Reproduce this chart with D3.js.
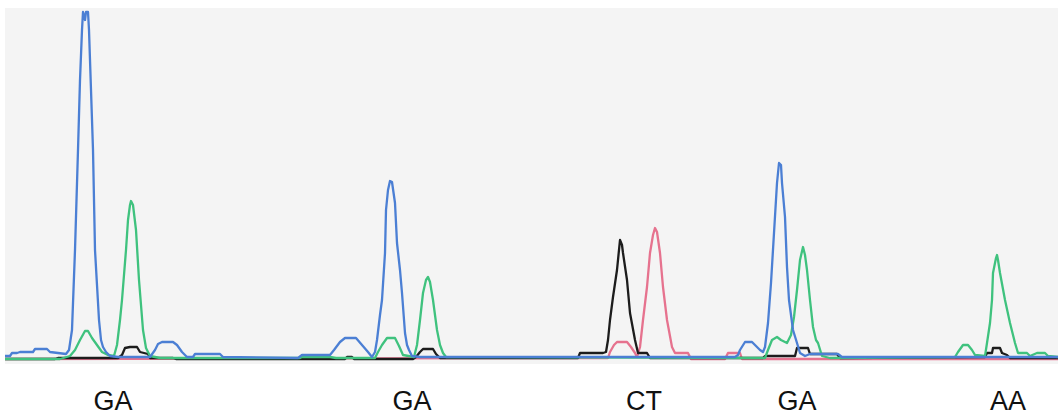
<!DOCTYPE html>
<html>
<head>
<meta charset="utf-8">
<style>
  body { margin: 0; background: #ffffff; }
  .trace { fill: none; stroke-width: 2.3; stroke-linejoin: round; }
  .call { font-family: "Liberation Sans", Arial, sans-serif; font-size: 27px; fill: #111; }
</style>
</head>
<body>
<script src="https://cdn.jsdelivr.net/npm/d3@7"></script>
<script>
// trace data: [scan position, signal]
const blueTrace = [[5,3],[10,3],[12,6],[17,6],[20,7],[33,7],[35,10],[47,10],[50,7],[58,6],[66,5],
  [69,9],[72,29],[75,109],[78,209],[80,279],[82,329],[83,347],[85,339],[86,347],[88,347],[89,329],[90,299],[93,209],[95,109],[97,74],[99,39],[101,19],[103,12],[106,7],[110,3],
  [118,2],[150,2],[155,9],[158,15],[162,17],[173,17],[177,14],[182,7],[187,2],[193,2],[195,5],[220,5],[223,2],
  [298,1],[302,4],[330,4],[334,9],[340,17],[345,21],[356,21],[362,14],[368,7],[372,2],
  [375,7],[377,19],[380,44],[382,59],[385,106],[386,149],[388,169],[390,178],[392,177],[395,156],[397,116],[400,89],[402,66],[405,26],[407,14],[409,9],[412,3],[420,2],
  [735,2],[738,4],[740,9],[745,17],[752,17],[756,13],[760,9],[763,7],
  [765,12],[768,36],[771,76],[774,126],[777,176],[779,196],[781,194],[782,176],[785,142],[787,92],[789,59],[793,29],[797,16],[800,6],[805,3],[810,5],[838,5],[842,2],[1058,2]];

const greenTrace = [[5,0],[60,0],[70,3],[75,9],[80,19],[85,28],[88,28],[92,21],[97,14],[102,7],[108,4],[114,3],
  [117,14],[120,39],[122,59],[126,109],[128,139],[130,154],[131,158],[133,154],[136,129],[139,79],[141,54],[143,29],[146,11],[150,3],[160,1],[300,1],[302,2],[330,2],[336,1],
  [375,1],[378,7],[382,14],[387,21],[395,21],[399,13],[403,4],[414,2],
  [417,14],[420,39],[423,66],[426,79],[428,82],[430,77],[433,59],[437,29],[440,14],[443,6],[446,2],
  [765,1],[768,9],[772,19],[777,22],[781,19],[787,16],[791,24],[794,42],[797,69],[800,99],[803,112],[805,104],[807,89],[810,59],[813,32],[816,19],[818,16],[822,3],[830,1],
  [955,2],[958,7],[963,14],[968,14],[972,9],[975,4],[985,3],[987,16],[990,36],[992,59],[993,86],[996,101],[997,104],[998,99],[1000,86],[1005,59],[1010,36],[1015,16],[1018,6],[1027,6],[1030,3],[1037,6],[1045,6],[1048,3],[1058,2]];

const blackTrace = [[5,0],[55,0],[58,1],[118,1],[122,4],[125,11],[130,12],[137,12],[140,7],[148,5],[150,1],[173,1],[176,0],
  [345,0],[347,2],[352,2],[354,0],[413,0],[416,2],[420,7],[423,10],[433,10],[436,5],[440,1],
  [578,1],[580,6],[603,6],[606,7],[608,19],[610,39],[613,62],[617,89],[620,119],[622,114],[623,106],[627,79],[630,46],[635,19],[638,6],[647,6],[650,1],
  [763,1],[765,3],[795,3],[797,11],[808,11],[810,5],[837,5],[840,1],
  [985,2],[987,6],[992,6],[993,11],[1000,11],[1002,6],[1007,4],[1010,1],[1058,1]];

const redTrace = [[5,0],[608,1],[610,7],[614,14],[617,17],[627,17],[631,12],[635,6],[637,2],[640,12],[643,39],[647,72],[650,106],[653,124],[655,131],[657,127],[660,106],[663,72],[667,39],[672,12],[675,6],[688,6],[691,0],
  [725,0],[728,6],[740,6],[742,0],[1058,0]];

// genotype calls and where they sit along the scan
const calls = ["GA", "GA", "CT", "GA", "AA"];
const callPos = [113, 412, 644, 797, 1008];

const W = 1058, H = 417;
const svg = d3.select("body").append("svg")
  .attr("width", W)
  .attr("height", H);

// scanned panel
svg.append("rect")
  .attr("x", 5).attr("y", 8)
  .attr("width", W - 5).attr("height", 356)
  .attr("fill", "#f4f4f4");

const x = d3.scaleLinear().domain([5, 1058]).range([5, 1058]);
const y = d3.scaleLinear().domain([0, 350]).range([359, 9]);

const line = d3.line()
  .x(d => x(d[0]))
  .y(d => y(d[1]))
  .curve(d3.curveLinear);

const series = [
  { name: "red", data: redTrace, color: "#e6728e" },
  { name: "black", data: blackTrace, color: "#1c1c1c" },
  { name: "green", data: greenTrace, color: "#3fc27e" },
  { name: "blue", data: blueTrace, color: "#4b7fd4" }
];

svg.append("g").attr("id", "traces")
  .selectAll("path")
  .data(series)
  .enter()
  .append("path")
  .attr("class", "trace")
  .attr("stroke", d => d.color)
  .attr("d", d => line(d.data));

// genotype labels
svg.append("g").attr("id", "calls")
  .selectAll("text")
  .data(calls)
  .enter()
  .append("text")
  .attr("class", "call")
  .attr("x", (d, i) => x(callPos[i]))
  .attr("y", 410)
  .attr("text-anchor", "middle")
  .text(d => d);
</script>
</body>
</html>
